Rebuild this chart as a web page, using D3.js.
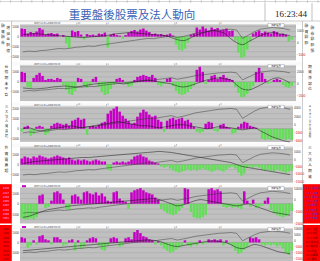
<!DOCTYPE html>
<html>
<head>
<meta charset="utf-8">
<script src="https://cdnjs.cloudflare.com/ajax/libs/d3/7.8.5/d3.min.js"></script>
<style>
body { margin: 0; background: #fff; }
svg { display: block; font-family: "Noto Sans CJK TC", "Noto Sans CJK SC", sans-serif; }
</style>
</head>
<body>
<script>
const W = 320, H = 261;

const titleText = "重要盤後股票及法人動向";
const timeText = "16:23:44";
const rangeLabel = "2007/11/01~2008/05/23";
const dateTickIdx = [19, 29, 52, 67];
const dateTickLabels = ["12", "1", "3", "4"];

// weighted index, one point per two bars
const indexSeries = [6500, 6550, 6520, 6580, 6600, 6650, 6700, 6680, 6720, 6780,
  6800, 6850, 6830, 6900, 6950, 7000, 7050, 7100, 7150, 7200,
  7250, 7300, 7280, 7350, 7400, 7450, 7350, 7420, 7500, 7600,
  7650, 7700, 7750, 7800, 7820, 7850, 7800, 7300, 7500, 7700,
  7850, 7900, 7950, 7920, 7880, 7800];

const p1Bars = [800, 750, 300, 450, 350, 500, 850, 700, 200, 300,
  350, 250, 300, 0, 150, -700, -1150, 600, 450, 550,
  200, -300, 250, 150, 200, 100, 300, 250, 400, -1100,
  200, 300, 150, 100, -200, 150, 400, 550, 650, 500,
  700, 800, 600, 450, 250, 300, 200, 250, 150, 200,
  300, 100, -800, -1300, -1400, -1200, -600, 200, 300, 900,
  700, 1000, 800, 600, 900, 750, 850, 650, 700, 800,
  550, 600, -400, -1600, -2100, -2000, -1300, -500, 300, 450,
  600, 350, 500, 400, 300, 550, 450, 250, 300, 200,
  -500, -300];
const p1Line = [200, 250, 300, 250, 200, 150, 100, 50, 0, -50, -100, -50, 0, 50, 100, 200,
  300, 350, 400, 350, 300, 250, 200, 150, 100, -100, -300, -400, -200, 100, 300, 500,
  600, 500, 300, -200, -600, -800, -500, -200, 100, 300, 400, 300, 200, 100];

const p2Bars = [1000, 900, -500, -600, 400, 700, 900, 600, 200, 300,
  300, 200, 400, 300, -300, -800, -1200, -1300, -900, 400,
  300, -400, -600, -300, 300, 500, -500, -1000, -1300, -1200,
  -700, -300, 300, 400, 200, -200, -500, -400, 200, 500,
  600, 700, 600, 500, 700, 400, -300, -400, -200, 300,
  400, -400, -900, -1200, -1300, -1200, -1000, -700, -400, 1200,
  1500, 1000, -200, 200, 600, 700, 300, 500, 700, 400,
  300, 200, -500, -1100, -1500, -1500, -1200, -800, -400, 1000,
  1400, 900, 300, -200, -100, 200, 300, 200, -300, -500,
  -600, -400];
const p2Line = [-600, -650, -700, -650, -600, -500, -450, -400, -450, -500, -400, -300, -200, -150, -100, -50,
  -100, -200, -100, 0, 100, 150, 100, 0, -100, -200, -400, -500, -400, -200, 0, 200,
  300, 400, 300, 200, -300, -700, -800, -600, -300, 0, 300, 400, 200, -100];

const p3Bars = [-300, 200, 300, -700, -500, 200, 300, 200, -600, -400,
  300, 500, 600, 500, 400, 500, 300, 800, 900, 1100,
  900, 1000, -600, 200, 300, 200, 400, 600, 700, 1500,
  1800, 2000, 2200, 1700, 1300, 1000, 800, 500, 600, 1200,
  1600, 1900, 1700, 1400, 1200, 1300, 900, 700, -300, 800,
  1000, 1100, 900, 1000, 1100, 800, 900, 600, 200, -300,
  -400, -300, 500, 700, 600, -200, -300, 400, 500, 200,
  100, -500, -400, 200, 500, 700, 600, 300, 200, 100,
  -100, -1000, -1100, -1000, -1100, -1000, -1100, -1050, -1000, -1100,
  -1000, -1100];
const p3Line = [0, 100, -100, -200, -100, 0, 100, 200, 300, 200, 100, 200, 300, 400, 500, 600,
  700, 600, 500, 400, 300, 300, 200, 100, 200, 300, 400, 400, 300, 200, 100, 0,
  100, 200, 150, 100, 0, -100, 0, 100, -200, -500, -800, -1000, -1200, -1300];

const p4Bars = [600, 800, 700, 600, 800, 700, 900, 800, 700, 600,
  700, 800, 900, 800, 700, 600, 700, 500, 400, 500,
  400, 500, 400, 300, 400, 500, 400, 300, 300, -500,
  -600, 200, 300, 200, 300, 200, 300, 500, 800, 900,
  1000, 800, 700, 400, 300, 200, 100, -200, -300, -200,
  -400, -600, -700, -800, -700, -600, -500, -600, -500, -600,
  -500, -400, -500, -600, -700, -600, -500, -600, -700, -500,
  -300, -200, -400, -800, -1100, -900, -300, -200, -300, -200,
  -300, -500, -600, -500, -600, -700, -500, -600, -700, -800,
  -700, -600];
const p4Line = [100, 200, 300, 350, 400, 450, 500, 550, 600, 650, 700, 700, 750, 800, 850, 900,
  950, 1000, 1050, 1100, 1150, 1200, 1250, 1300, 1250, 1200, 1100, 1000, 900, 800, 700, 600,
  500, 400, 300, 200, 0, -200, -300, -400, -500, -600, -700, -800, -900, -1000];

const p5Bars = [-1400, -1500, -1500, -1400, -1500, -1300, 800, 900, -400, -300,
  300, 1100, 1200, 1000, 400, -500, -600, 800, 900, 700,
  400, 1100, 1200, 1000, 900, 1100, 800, 1000, 700, 300,
  200, 1100, 1200, 500, 300, 200, -500, 1100, 1300, 1400,
  1500, 1300, 1100, 1000, 900, 600, 400, -500, -700, -900,
  -1000, -1100, -1000, -700, -400, 1500, 1400, -800, -1300, -1400,
  -1400, -1300, -1100, 1400, 1500, 1300, 1400, 1200, -300, -400,
  -300, -400, -300, -400, -500, 1200, 300, -300, 400, -400,
  -300, -200, 300, 600, -600, -900, -1100, -1200, -1300, -1200,
  -1000, -700];
const p5Line = [-1300, -1200, -1000, -800, -600, -500, -400, -300, -200, -150, -100, -50, 0, 50, 100, 150,
  200, 250, 300, 350, 400, 450, 500, 400, 200, 0, -200, -100, 100, 300, 400, 300,
  200, 100, 0, -100, -200, -100, 0, -200, -400, -600, -800, -900, -1000, -1100];

const p6Bars = [500, 400, -500, -300, 200, -200, 600, 700, 300, 200,
  -200, 500, 500, 300, -300, -200, 200, 300, -800, 200,
  -600, -400, 200, 400, 500, 400, -300, -700, -800, -300,
  400, 500, 400, -400, -300, 400, 500, 300, 1000, 1200,
  900, 600, 500, 300, 200, -200, 100, -300, -600, -800,
  -1000, -900, -700, -500, -300, 200, -300, -400, -200, -300,
  200, -200, -100, 300, 200, 300, 200, 300, -300, 200,
  -200, -400, -800, -1100, -1000, -700, -400, 500, 400, 500,
  300, -200, -300, -200, -300, -200, -400, -300, -600, -1000,
  -1200, -800];
const p6Line = [-800, -750, -700, -650, -600, -550, -500, -450, -400, -350, -300, -250, -200, -150, -100, -50,
  0, 50, 100, 150, 200, 250, 200, 100, -100, -300, -400, -300, -200, -100, 0, 100,
  150, 100, 0, -200, -500, -600, -400, -200, -300, -500, -700, -900, -1000, -1100];

const leftTexts = [["融資融券", "增減金額億"], ["台指期未平倉"], ["三大法人買賣超"], ["外資買賣超"]];
const rightTexts = [["融資餘額", "融券餘額張"], ["期貨淨部位"], ["三大法人合計買賣超"], ["三大法人期貨"]];
const redLeftRows = [["2330", "2317", "2454", "2409", "2357", "2382", "2498", "3481"],
                     ["1301", "1303", "2002", "2882", "2891", "2603", "2412", "2303"]];
const redRightRows = [["+52.1 台積電", "+31.4 鴻海", "+18.2 聯發科", "+12.7 友達", "+9.8 華碩", "+7.5 廣達", "+6.1 宏達電", "+4.3 奇美電"],
                      ["-45.2 台塑", "-28.6 南亞", "-17.9 中鋼", "-12.3 國泰金", "-9.1 富邦金", "-6.4 長榮", "-5.2 中華電", "-3.7 聯電"]];

const panels = [
  { bars: p1Bars, line: p1Line, dom: [-2350, 1150], idxDom: [6000, 8100], right: 296, rdom: [-1500, 1500] },
  { bars: p2Bars, line: p2Line, dom: [-1900, 1600], idxDom: [5800, 8300], right: 296, rdom: [-3000, 3000] },
  { bars: p3Bars, line: p3Line, dom: [-1300, 2200], idxDom: [6000, 7950], right: 293, rdom: [-4300, 4300] },
  { bars: p4Bars, line: p4Line, dom: [-1800, 1700], idxDom: [6000, 8300], right: 293, rdom: [-16000, 8000] },
  { bars: p5Bars, line: p5Line, dom: [-1900, 1500], idxDom: [5810, 8156], right: 293, rdom: [-20000, 10000] },
  { bars: p6Bars, line: p6Line, dom: [-1800, 1300], idxDom: [5948, 8087], right: 293, rdom: [-17000, 10000] }
];

const svg = d3.select("body").append("svg")
  .attr("width", W).attr("height", H);

svg.append("rect").attr("width", W).attr("height", H).attr("fill", "#fff");

// spreadsheet ruler at the very top
svg.append("line").attr("x1", 0).attr("x2", W).attr("y1", 1.5).attr("y2", 1.5)
  .attr("stroke", "#bbb").attr("stroke-width", 0.6);
svg.append("g").selectAll("line").data(d3.range(0, W, 10.6)).enter().append("line")
  .attr("x1", d => d).attr("x2", d => d).attr("y1", 0).attr("y2", 3)
  .attr("stroke", "#aaa").attr("stroke-width", 0.5);

// title row
svg.append("text").attr("x", 132).attr("y", 18.5)
  .attr("text-anchor", "middle").attr("font-size", 11.5)
  .attr("fill", "#3b63b5").text(titleText);
svg.append("text").attr("x", 291).attr("y", 17)
  .attr("text-anchor", "middle").attr("font-size", 9)
  .attr("font-family", "Liberation Serif, serif")
  .attr("fill", "#222").text(timeText);
[265, 312].forEach(x => {
  svg.append("line").attr("x1", x).attr("x2", x).attr("y1", 3).attr("y2", 21)
    .attr("stroke", "#999").attr("stroke-width", 0.6);
});

const xb = d3.scaleBand().domain(d3.range(p1Bars.length)).range([20.5, 293]).paddingInner(0.15);
const lx = d3.scaleLinear().domain([0, indexSeries.length - 1])
  .range([xb(0) + xb.bandwidth(), xb(p1Bars.length - 2) + xb.bandwidth()]);

// stacked characters; spacing follows the CJK line box so glyph boxes do not touch
const vertText = (g, str, x, y0, maxLen, color) => {
  const chars = Array.from(str);
  const size = Math.min(3.8, maxLen / (chars.length * 1.5));
  chars.forEach((ch, i) => {
    g.append("text").attr("x", x).attr("y", y0 + size + i * size * 1.5)
      .attr("text-anchor", "middle").attr("font-size", size)
      .attr("fill", color).text(ch);
  });
};

panels.forEach((p, k) => {
  const top = 21 + k * 40.8;
  const pTop = top + 4;
  const pBot = Math.min(top + 39.3, H);
  const g = svg.append("g");
  const red = k >= 4;

  // header strip
  g.append("rect").attr("x", 12).attr("y", top).attr("width", 290).attr("height", 4)
    .attr("fill", "#fafafa");
  g.append("line").attr("x1", 20).attr("x2", p.right).attr("y1", top + 3.6).attr("y2", top + 3.6)
    .attr("stroke", "#999").attr("stroke-width", 0.4);
  g.append("text").attr("x", 34).attr("y", top + 3.2).attr("font-size", 2.4)
    .attr("fill", "#444").text(rangeLabel);
  g.selectAll(".dt").data(dateTickIdx).enter().append("line")
    .attr("x1", d => xb(d)).attr("x2", d => xb(d))
    .attr("y1", top + 1.5).attr("y2", top + 3.6)
    .attr("stroke", "#666").attr("stroke-width", 0.4);
  g.selectAll(".dl").data(dateTickIdx).enter().append("text")
    .attr("x", d => xb(d) + 1).attr("y", top + 2.8).attr("font-size", 2.2)
    .attr("fill", "#555").text((d, i) => dateTickLabels[i]);

  // plot area
  g.append("rect").attr("x", 20).attr("y", pTop).attr("width", p.right - 20).attr("height", pBot - pTop)
    .attr("fill", "#c0c0c0");

  const y = d3.scaleLinear().domain(p.dom).range([pBot, pTop]);
  const yi = d3.scaleLinear().domain(p.idxDom).range([pBot, pTop]);
  const yr = d3.scaleLinear().domain(p.rdom).range([pBot, pTop]);

  g.append("g").selectAll("line").data(y.ticks(8)).enter().append("line")
    .attr("x1", 20).attr("x2", p.right)
    .attr("y1", d => y(d)).attr("y2", d => y(d))
    .attr("stroke", d => d === 0 ? "#808080" : "#a6a6a6")
    .attr("stroke-width", 0.5);

  g.append("g").selectAll("rect").data(p.bars).enter().append("rect")
    .attr("x", (d, i) => xb(i))
    .attr("width", xb.bandwidth())
    .attr("y", d => y(Math.max(0, d)))
    .attr("height", d => Math.abs(y(d) - y(0)))
    .attr("fill", d => d >= 0 ? "#c400c4" : "#66dd5a");

  const lineIdx = d3.line().x((d, i) => lx(i)).y(d => yi(d));
  g.append("path").datum(indexSeries).attr("d", lineIdx)
    .attr("fill", "none").attr("stroke", "#3a3a3a").attr("stroke-width", 0.5);
  const line2 = d3.line().curve(d3.curveMonotoneX).x((d, i) => lx(i)).y(d => y(d));
  g.append("path").datum(p.line).attr("d", line2)
    .attr("fill", "none").attr("stroke", "#111").attr("stroke-width", 0.5);

  // legend box top right of plot
  g.append("rect").attr("x", 268).attr("y", top + 2.5).attr("width", 16).attr("height", 3.5)
    .attr("fill", "#fff").attr("stroke", "#777").attr("stroke-width", 0.3);
  g.append("text").attr("x", 276).attr("y", top + 5.2).attr("text-anchor", "middle")
    .attr("font-size", 2.4).attr("fill", "#333").text("加權指數");

  // left axis
  const yAxis = d3.axisLeft(y).ticks(4).tickSize(0).tickPadding(0.5).tickFormat(d3.format("d"));
  const ga = g.append("g").attr("transform", "translate(19.5,0)").call(yAxis);
  ga.select(".domain").remove();
  ga.selectAll("text").attr("font-size", 3).attr("fill", "#333").attr("font-family", "Liberation Sans, sans-serif");

  // right axis
  const rAxis = d3.axisRight(yr).ticks(4).tickSize(0).tickPadding(1).tickFormat(d3.format("d"));
  const gr = g.append("g").attr("transform", `translate(${p.right},0)`).call(rAxis);
  gr.select(".domain").remove();
  gr.selectAll("text").attr("font-size", 3).attr("font-family", "Liberation Sans, sans-serif")
    .attr("fill", d => d < 0 ? "#e00000" : "#333");

  if (red) {
    g.append("rect").attr("x", 0).attr("y", top).attr("width", 12).attr("height", pBot - top)
      .attr("fill", "#ff0000");
    g.append("rect").attr("x", 303).attr("y", top).attr("width", 17).attr("height", pBot - top)
      .attr("fill", "#ff0000");
    const r = k - 4;
    redLeftRows[r].forEach((t, i) => {
      g.append("text").attr("x", 6).attr("y", top + 5 + i * 4.3).attr("text-anchor", "middle")
        .attr("font-size", 2.8).attr("fill", r === 0 ? "#ffb0ff" : "#700000").text(t);
    });
    redRightRows[r].forEach((t, i) => {
      g.append("text").attr("x", 311.5).attr("y", top + 5 + i * 4.3).attr("text-anchor", "middle")
        .attr("font-size", 2.6).attr("fill", r === 0 ? "#5a2bd0" : "#700000").text(t);
    });
    // small legend swatch in header
    g.append("rect").attr("x", 22).attr("y", top + 1).attr("width", 4).attr("height", 2)
      .attr("fill", "#c400c4");
  } else {
    const lt = leftTexts[k];
    lt.forEach((s, j) => {
      const x = lt.length === 1 ? 6.5 : 3 + j * 5.2;
      vertText(g, s, x, top + 2 + j * 2, 34, "#333");
    });
    const rt = rightTexts[k];
    rt.forEach((s, j) => {
      const x = rt.length === 1 ? 310 : 306.5 + j * 6;
      vertText(g, s, x, top + 2 + j * 2, 34, "#333");
    });
  }
});

// column dividers
svg.append("line").attr("x1", 11.5).attr("x2", 11.5).attr("y1", 21).attr("y2", H)
  .attr("stroke", "#999").attr("stroke-width", 0.5);
svg.append("line").attr("x1", 302.5).attr("x2", 302.5).attr("y1", 21).attr("y2", H)
  .attr("stroke", "#999").attr("stroke-width", 0.5);
svg.append("line").attr("x1", 0).attr("x2", W).attr("y1", 21).attr("y2", 21)
  .attr("stroke", "#999").attr("stroke-width", 0.5);
</script>
</body>
</html>
